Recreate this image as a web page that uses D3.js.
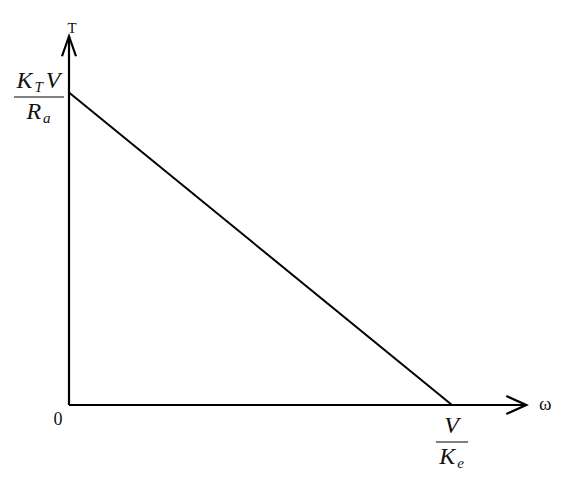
<!DOCTYPE html>
<html>
<head>
<meta charset="utf-8">
<script src="https://cdn.jsdelivr.net/npm/d3@7"></script>
<style>
body { margin: 0; background: #fff; }
text { font-family: "Liberation Serif", "DejaVu Serif", serif; fill: #111; }
</style>
</head>
<body>
<div id="chart"></div>
<script>
// torque-speed characteristic, normalised: speed in V/Ke, torque in KT*V/Ra
const speed = [0, 1];
const torque = [1, 0];
const axisLabels = ['ω', 'T'];
const originLabel = '0';
// fraction labels: [numerator parts, denominator parts], part = [text, subscript?]
const stallLabel = [[['K', false], ['T', true], ['V', false]], [['R', false], ['a', true]]];
const noLoadLabel = [[['V', false]], [['K', false], ['e', true]]];

const width = 563;
const height = 480;

const svg = d3.select('#chart')
    .append('svg')
    .attr('width', width)
    .attr('height', height);

const xScale = d3.scaleLinear()
    .domain([0, 1])
    .range([69, 452]);

const yScale = d3.scaleLinear()
    .domain([0, 1])
    .range([405, 92.5]);

const xEnd = xScale(1.194);
const yEnd = yScale(1.18);

// axes
const axes = svg.append('g')
    .attr('stroke', '#000')
    .attr('stroke-width', 2.2)
    .attr('fill', 'none');

axes.append('line')
    .attr('x1', xScale(0)).attr('y1', yScale(0))
    .attr('x2', xEnd).attr('y2', yScale(0));

axes.append('line')
    .attr('x1', xScale(0)).attr('y1', yScale(0))
    .attr('x2', xScale(0)).attr('y2', yEnd);

// open arrow heads
axes.append('path')
    .attr('d', `M${xEnd - 20},${yScale(0) - 9}L${xEnd},${yScale(0)}L${xEnd - 20},${yScale(0) + 9}`);

axes.append('path')
    .attr('d', `M${xScale(0) - 7},${yEnd + 20}L${xScale(0)},${yEnd}L${xScale(0) + 7},${yEnd + 20}`);

// characteristic line
const line = d3.line()
    .x((d, i) => xScale(speed[i]))
    .y((d, i) => yScale(d));

svg.append('path')
    .datum(torque)
    .attr('d', line)
    .attr('fill', 'none')
    .attr('stroke', '#000')
    .attr('stroke-width', 2);

// axis names
svg.append('text')
    .attr('x', xEnd + 19)
    .attr('y', yScale(0) + 5)
    .attr('text-anchor', 'middle')
    .attr('font-size', 19)
    .text(axisLabels[0]);

svg.append('text')
    .attr('x', xScale(0) + 3)
    .attr('y', yEnd - 3)
    .attr('text-anchor', 'middle')
    .attr('font-size', 15)
    .text(axisLabels[1]);

svg.append('text')
    .attr('x', xScale(0) - 11)
    .attr('y', yScale(0) + 20)
    .attr('text-anchor', 'middle')
    .attr('font-size', 18)
    .text(originLabel);

function addParts(t, parts) {
    parts.forEach(([s, sub], i) => {
        const ts = t.append('tspan').text(s);
        if (sub) {
            ts.attr('font-size', 15).attr('dy', 4).attr('dx', 1);
        } else if (i > 0 && parts[i - 1][1]) {
            ts.attr('dy', -4).attr('dx', 2);
        }
    });
}

function fraction(cx, barY, halfWidth, label) {
    const g = svg.append('g');
    const num = g.append('text')
        .attr('x', cx)
        .attr('y', barY - 9)
        .attr('text-anchor', 'middle')
        .attr('font-size', 24)
        .attr('letter-spacing', 1)
        .attr('font-style', 'italic');
    addParts(num, label[0]);
    g.append('line')
        .attr('x1', cx - halfWidth).attr('x2', cx + halfWidth)
        .attr('y1', barY).attr('y2', barY)
        .attr('stroke', '#000')
        .attr('stroke-width', 1);
    const den = g.append('text')
        .attr('x', cx)
        .attr('y', barY + 22)
        .attr('text-anchor', 'middle')
        .attr('font-size', 24)
        .attr('letter-spacing', 1)
        .attr('font-style', 'italic');
    addParts(den, label[1]);
}

fraction(xScale(0) - 30, yScale(1) + 4.5, 25, stallLabel);
fraction(xScale(1), yScale(0) + 37, 16, noLoadLabel);
</script>
</body>
</html>
